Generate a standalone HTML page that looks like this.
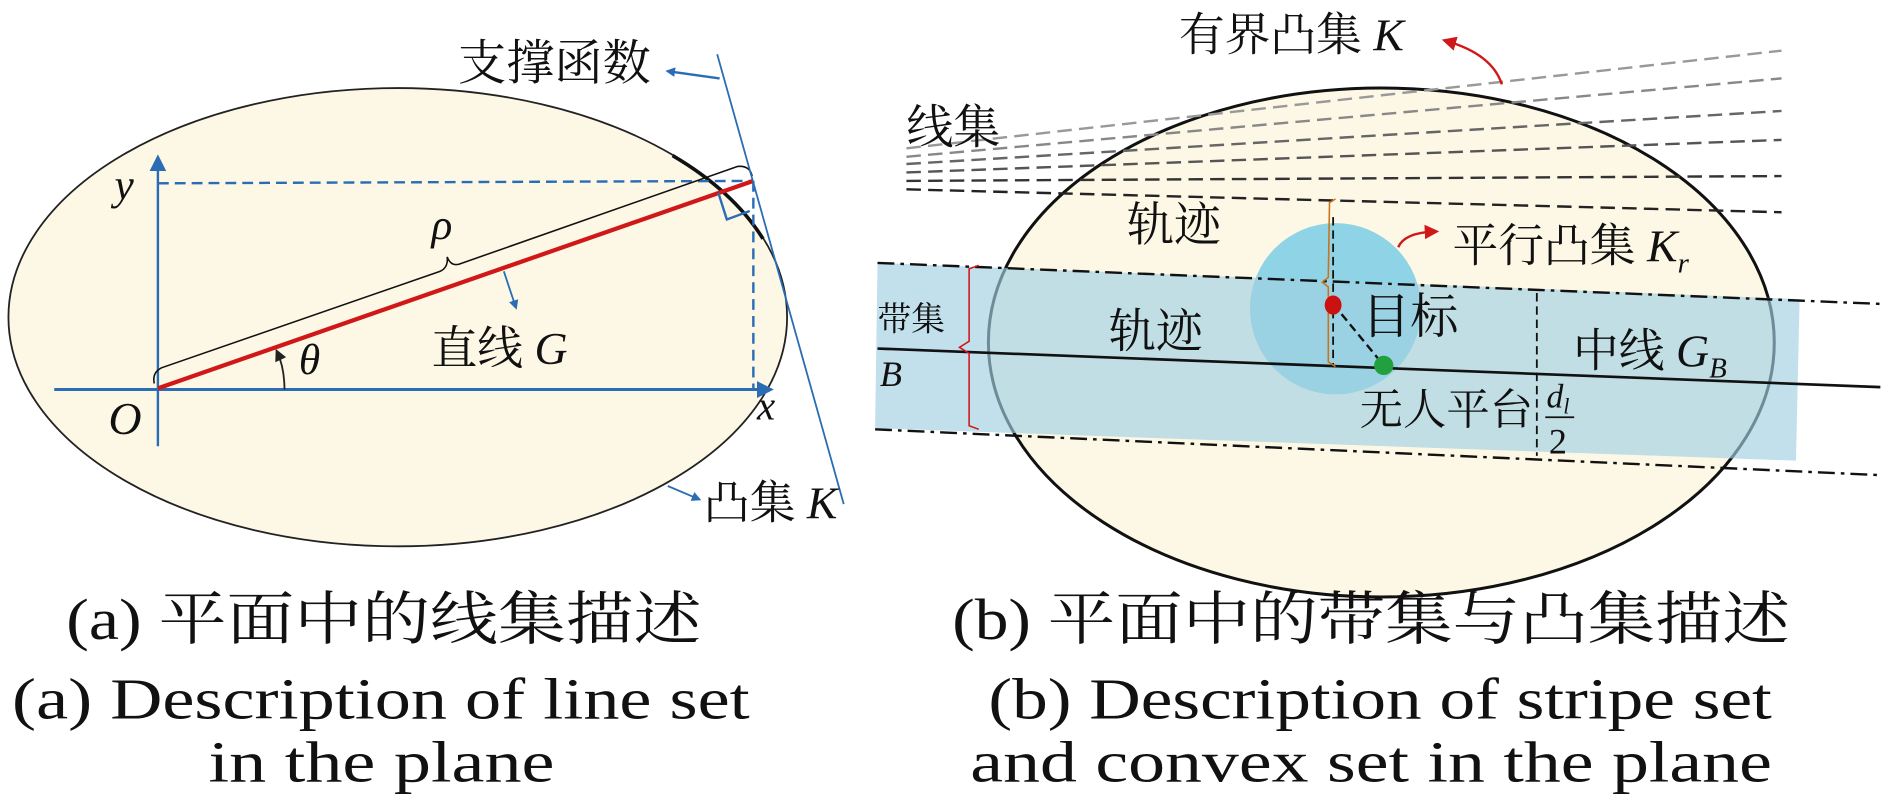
<!DOCTYPE html>
<html><head><meta charset="utf-8"><style>
html,body{margin:0;padding:0;background:#fff;width:1890px;height:808px;overflow:hidden}
text{font-family:"Liberation Serif","Noto Serif CJK SC",serif;fill:#111}
.i{font-style:italic}
</style></head><body>
<svg width="1890" height="808" viewBox="0 0 1568 670" preserveAspectRatio="none">
<defs>
<marker id="ab" markerWidth="8" markerHeight="8" refX="6" refY="4" orient="auto" markerUnits="userSpaceOnUse"><path d="M0,0 L8,4 L0,8 z" fill="#2a6db5"/></marker>
<marker id="ab2" markerWidth="14" markerHeight="14" refX="10" refY="7" orient="auto" markerUnits="userSpaceOnUse"><path d="M0,0 L14,7 L0,14 z" fill="#2a6db5"/></marker>
<marker id="ar" markerWidth="12" markerHeight="12" refX="8" refY="6" orient="auto" markerUnits="userSpaceOnUse"><path d="M0,0 L12,6 L0,12 z" fill="#d01818"/></marker>
<marker id="ak" markerWidth="10" markerHeight="10" refX="7" refY="5" orient="auto" markerUnits="userSpaceOnUse"><path d="M0,0 L10,5 L0,10 z" fill="#222"/></marker>
</defs>
<!-- LEFT -->
<ellipse cx="330" cy="263" rx="323" ry="190" fill="#fdf8e6" stroke="#222" stroke-width="1.5"/>
<path d="M558,129 A323,190 0 0,1 633,198" fill="none" stroke="#111" stroke-width="3"/>
<line x1="45" y1="323" x2="638" y2="323" stroke="#2a6db5" stroke-width="2.5" marker-end="url(#ab2)"/>
<line x1="131" y1="370" x2="131" y2="132" stroke="#2a6db5" stroke-width="2" marker-end="url(#ab2)"/>
<line x1="131" y1="152" x2="625" y2="150" stroke="#2a6db5" stroke-width="2" stroke-dasharray="9,5"/>
<line x1="625" y1="150" x2="625" y2="323" stroke="#2a6db5" stroke-width="2" stroke-dasharray="9,5"/>
<path d="M128,318 Q126,309 134,305 L365,225 Q372,222 371,213 Q374,221 381,219 L612,138 Q622,137 624,146" fill="none" stroke="#111" stroke-width="1.3"/>
<line x1="131" y1="322" x2="625" y2="150" stroke="#d01818" stroke-width="3.5"/>
<line x1="595" y1="45" x2="700" y2="418" stroke="#2a6db5" stroke-width="1.5"/>
<path d="M596,160 L603,182 L622,175" fill="none" stroke="#2a6db5" stroke-width="2"/>
<line x1="597" y1="65" x2="554" y2="59" stroke="#2a6db5" stroke-width="2" marker-end="url(#ab)"/>
<line x1="418" y1="225" x2="428" y2="255" stroke="#2a6db5" stroke-width="1.5" marker-end="url(#ab)"/>
<line x1="554" y1="403" x2="580" y2="414" stroke="#2a6db5" stroke-width="1.5" marker-end="url(#ab)"/>
<path d="M236,323 Q236,305 230,292" fill="none" stroke="#222" stroke-width="1.5" marker-end="url(#ak)"/>
<text x="380" y="66" font-size="40">支撑函数</text>
<text x="95" y="165" font-size="36" class="i">y</text>
<text x="90" y="360" font-size="38" class="i">O</text>
<text x="628" y="348" font-size="34" class="i">x</text>
<text x="248" y="310" font-size="36" class="i">θ</text>
<text x="358" y="198" font-size="36" class="i">ρ</text>
<text x="358" y="302" font-size="38">直线 <tspan class="i">G</tspan></text>
<text x="584" y="430" font-size="38">凸集 <tspan class="i">K</tspan></text>
<!-- RIGHT -->
<ellipse cx="1146" cy="284" rx="326" ry="211" fill="#fdf8e6" stroke="#111" stroke-width="2.5"/>
<g stroke-width="2" stroke-dasharray="12,6" fill="none">
<line x1="752" y1="123" x2="1478" y2="42" stroke="#999"/>
<line x1="752" y1="130" x2="1478" y2="65" stroke="#888"/>
<line x1="752" y1="136" x2="1478" y2="92" stroke="#666"/>
<line x1="752" y1="143" x2="1478" y2="116" stroke="#555"/>
<line x1="752" y1="150" x2="1478" y2="146" stroke="#333"/>
<line x1="752" y1="157" x2="1478" y2="176" stroke="#222"/>
</g>
<circle cx="1108" cy="256" r="71" fill="#8fd3e6"/>
<polygon points="728,218 1493,248 1490,382 726,355" fill="#9fd0e2" opacity="0.65"/>
<line x1="728" y1="218" x2="1560" y2="252" stroke="#111" stroke-width="2" stroke-dasharray="14,5,3,5"/>
<line x1="726" y1="356" x2="1560" y2="394" stroke="#111" stroke-width="2" stroke-dasharray="14,5,3,5"/>
<line x1="728" y1="289" x2="1560" y2="321" stroke="#111" stroke-width="2.2"/>
<line x1="1275" y1="243" x2="1275" y2="378" stroke="#111" stroke-width="1.5" stroke-dasharray="7,4"/>
<line x1="1106" y1="180" x2="1106" y2="303" stroke="#111" stroke-width="1.5" stroke-dasharray="7,4"/>
<line x1="1106" y1="252" x2="1148" y2="303" stroke="#111" stroke-width="2" stroke-dasharray="7,4"/>
<path d="M1108,165 L1103,168 L1102,230 L1097,234 L1102,238 L1102,300 L1108,304" fill="none" stroke="#c8741a" stroke-width="1.3"/>
<path d="M812,220 L804,223 L804,283 L796,288 L804,293 L804,353 L812,356" fill="none" stroke="#d01818" stroke-width="1.3"/>
<ellipse cx="1106" cy="253" rx="7" ry="8" fill="#cc1111"/>
<ellipse cx="1148" cy="303" rx="8" ry="8" fill="#22a040"/>
<path d="M1246,70 Q1238,45 1200,34" fill="none" stroke="#d01818" stroke-width="2" marker-end="url(#ar)"/>
<path d="M1160,205 Q1165,193 1190,192" fill="none" stroke="#d01818" stroke-width="2" marker-end="url(#ar)"/>
<text x="978" y="42" font-size="38">有界凸集 <tspan class="i">K</tspan></text>
<text x="752" y="119" font-size="39">线集</text>
<text x="935" y="200" font-size="39">轨迹</text>
<text x="920" y="288" font-size="39">轨迹</text>
<text x="1205" y="217" font-size="38">平行凸集 <tspan class="i">K</tspan><tspan class="i" font-size="24" dy="9">r</tspan></text>
<text x="1130" y="276" font-size="40">目标</text>
<text x="1305" y="304" font-size="38">中线 <tspan class="i">G</tspan><tspan class="i" font-size="24" dy="9">B</tspan></text>
<text x="1128" y="352" font-size="36">无人平台</text>
<text x="1283" y="338" font-size="28" class="i">d<tspan font-size="18" dy="5">l</tspan></text>
<line x1="1282" y1="346" x2="1306" y2="346" stroke="#111" stroke-width="1.5"/>
<text x="1285" y="376" font-size="30">2</text>
<text x="728" y="274" font-size="28">带集</text>
<text x="730" y="320" font-size="30" class="i">B</text>
<!-- captions -->
<text x="55" y="530" font-size="48" textLength="527" lengthAdjust="spacingAndGlyphs">(a) 平面中的线集描述</text>
<text x="10" y="596" font-size="48" textLength="612" lengthAdjust="spacingAndGlyphs">(a) Description of line set</text>
<text x="173" y="648" font-size="48" textLength="287" lengthAdjust="spacingAndGlyphs">in the plane</text>
<text x="790" y="530" font-size="48" textLength="695" lengthAdjust="spacingAndGlyphs">(b) 平面中的带集与凸集描述</text>
<text x="820" y="596" font-size="48" textLength="650" lengthAdjust="spacingAndGlyphs">(b) Description of stripe set</text>
<text x="805" y="648" font-size="48" textLength="665" lengthAdjust="spacingAndGlyphs">and convex set in the plane</text>
</svg>
</body></html>
